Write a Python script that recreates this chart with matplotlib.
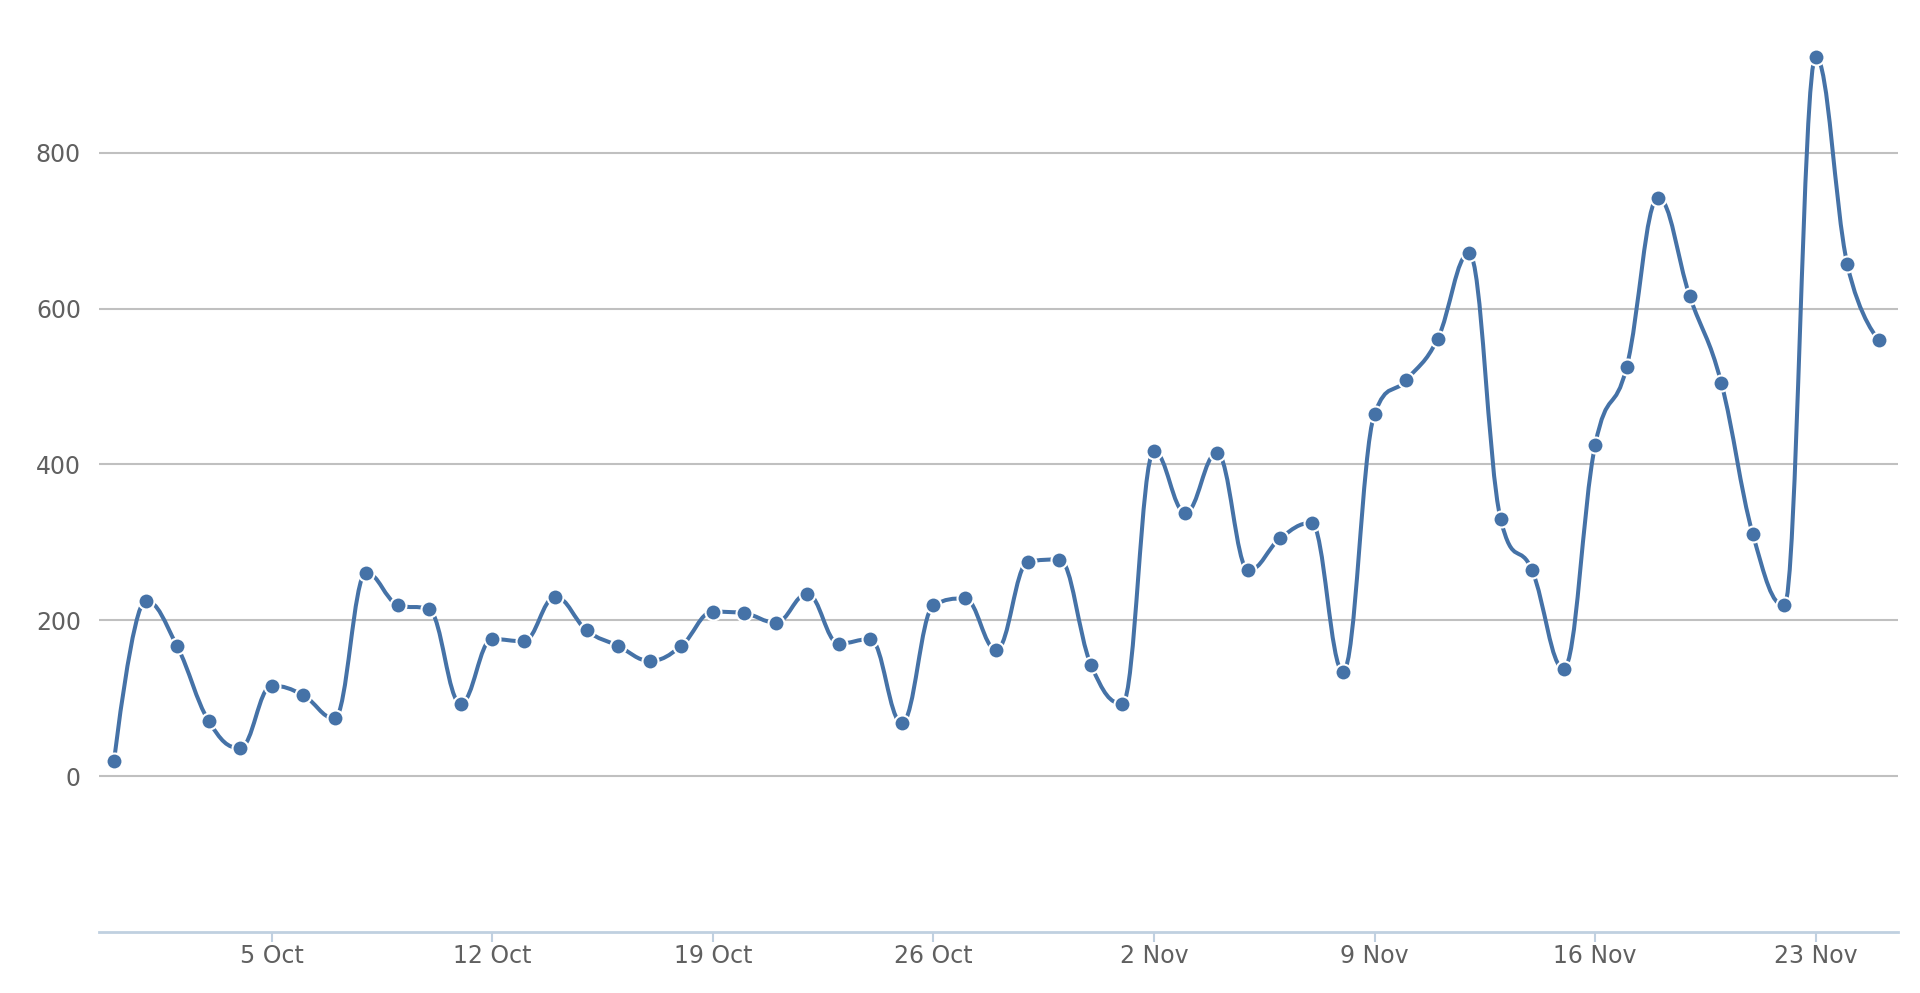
import numpy as np
import matplotlib
matplotlib.use("Agg")
import matplotlib.pyplot as plt
import matplotlib.dates as mdates
from matplotlib.path import Path
from matplotlib.patches import PathPatch

# daily values, 30 Sep .. 25 Nov
start_date = "2013-09-30"
values = [19, 225, 167, 71, 36, 116, 104, 74, 261, 220,
          214, 93, 176, 173, 230, 187, 167, 148, 167, 211,
          209, 197, 234, 170, 176, 68, 219, 228, 162, 275,
          278, 143, 93, 417, 338, 415, 264, 305, 325, 134,
          465, 508, 561, 671, 330, 264, 138, 425, 525, 742,
          616, 505, 311, 219, 923, 657, 560]
tick_dates = ["2013-10-05", "2013-10-12", "2013-10-19", "2013-10-26",
              "2013-11-02", "2013-11-09", "2013-11-16", "2013-11-23"]
y_ticks = [0, 200, 400, 600, 800]

line_color = "#4572A7"
grid_color = "#C0C0C0"
axis_color = "#C0D0E0"
label_color = "#606060"

dates = np.arange(np.datetime64(start_date), np.datetime64(start_date) + len(values))
xs = mdates.date2num(dates.astype("datetime64[D]").astype(object))
ys = np.array(values, dtype=float)


def spline_path(x, y, smoothing=1.5):
    # same smoothing as a highcharts "spline" series
    denom = smoothing + 1
    n = len(x)
    right = [(x[0], y[0])] + [None] * (n - 1)
    left = [None] * n
    left[-1] = (x[-1], y[-1])
    right[-1] = (x[-1], y[-1])
    for i in range(1, n - 1):
        lx = (smoothing * x[i] + x[i - 1]) / denom
        ly = (smoothing * y[i] + y[i - 1]) / denom
        rx = (smoothing * x[i] + x[i + 1]) / denom
        ry = (smoothing * y[i] + y[i + 1]) / denom
        corr = (ry - ly) * (rx - x[i]) / (rx - lx) + y[i] - ry
        ly += corr
        ry += corr
        if ly > y[i - 1] and ly > y[i]:
            ly = max(y[i - 1], y[i]); ry = 2 * y[i] - ly
        elif ly < y[i - 1] and ly < y[i]:
            ly = min(y[i - 1], y[i]); ry = 2 * y[i] - ly
        if ry > y[i + 1] and ry > y[i]:
            ry = max(y[i + 1], y[i]); ly = 2 * y[i] - ry
        elif ry < y[i + 1] and ry < y[i]:
            ry = min(y[i + 1], y[i]); ly = 2 * y[i] - ry
        left[i] = (lx, ly)
        right[i] = (rx, ry)
    verts = [(x[0], y[0])]
    codes = [Path.MOVETO]
    for i in range(1, n):
        verts += [right[i - 1], left[i], (x[i], y[i])]
        codes += [Path.CURVE4] * 3
    return Path(verts, codes)


fig = plt.figure(figsize=(19.2, 9.93), dpi=100)
ax = fig.add_axes([99 / 1920, 1 - 932 / 993, (1898 - 99) / 1920, 932 / 993])

for v in y_ticks:
    ax.axhline(v, color=grid_color, lw=1.5, zorder=1)

ax.add_patch(PathPatch(spline_path(xs, ys), facecolor="none", edgecolor=line_color,
                       lw=2.9, capstyle="round", joinstyle="round", zorder=3))
ax.plot(xs, ys, ls="none", marker="o", ms=11.5, mfc=line_color, mec="white",
        mew=1.5, zorder=4)

ax.set_xlim(xs[0] - 0.476, xs[-1] + 0.61)
ax.set_ylim(-200, 996)

tick_obj = np.array(tick_dates, dtype="datetime64[D]").astype(object)
ax.set_xticks(mdates.date2num(tick_obj))
ax.set_xticklabels([f"{d.day} {d.strftime('%b')}" for d in tick_obj])
ax.set_yticks(y_ticks)
ax.set_yticklabels([str(v) for v in y_ticks])

for side in ["top", "right", "left"]:
    ax.spines[side].set_visible(False)
ax.spines["bottom"].set_color(axis_color)
ax.spines["bottom"].set_linewidth(2)

ax.tick_params(axis="x", colors=axis_color, length=7, width=1.5, pad=1.5,
               labelcolor=label_color, labelsize=17)
ax.tick_params(axis="y", length=0, pad=13, labelcolor=label_color, labelsize=17)
ax.set_facecolor("white")

fig.savefig("out.png", dpi=100, facecolor="white")
